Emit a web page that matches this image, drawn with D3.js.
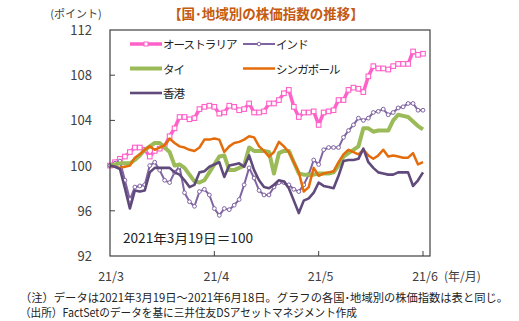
<!DOCTYPE html>
<html>
<head>
<meta charset="utf-8">
<script src="https://cdn.jsdelivr.net/npm/d3@7"></script>
<style>
  html, body { margin: 0; padding: 0; background: #fff; }
  svg { display: block; font-family: "Noto Sans CJK JP", "Noto Sans", sans-serif; }
</style>
</head>
<body>
<script>
// stock index by country / region, 2021/3/19 = 100
const seriesNames = ['オーストラリア', 'インド', 'タイ', 'シンガポール', '香港'];

const australia = [
	100.0,100.3,100.6,100.8,101.2,101.6,101.6,101.4,100.8,101.3,
	101.5,101.7,102.6,103.3,104.3,104.3,104.1,104.2,105.0,105.2,
	105.3,105.2,104.6,104.7,105.3,105.2,104.9,105.0,105.5,104.7,
	104.7,104.8,105.5,105.5,105.8,106.4,106.7,105.2,104.3,104.7,
	104.7,104.8,103.6,104.7,104.8,104.9,105.8,105.8,106.7,106.9,
	106.8,106.5,107.9,108.8,108.6,108.6,108.5,108.8,109.0,109.0,
	109.0,110.1,109.8,109.9];

const india = [
	100.0,100.2,100.4,98.7,97.0,98.1,98.2,98.3,100.0,100.3,
	99.6,98.7,98.5,99.4,99.9,97.6,96.8,96.4,97.7,97.9,
	97.4,96.2,95.6,96.2,96.1,96.5,97.0,98.3,99.8,98.9,
	97.8,97.4,97.4,98.1,98.5,98.5,98.3,97.9,97.7,98.3,
	99.2,100.5,100.1,101.4,101.6,101.6,101.6,102.5,103.1,103.6,
	104.2,104.0,104.2,104.7,104.8,105.0,104.5,104.7,105.1,105.2,
	105.5,105.5,104.9,104.9];

const thailand = [
	100.0,100.1,100.2,100.2,100.2,100.5,100.9,101.4,101.7,102.0,
	102.0,101.6,101.2,100.0,100.1,99.8,99.2,98.6,98.5,98.7,
	99.4,100.1,100.8,100.9,99.6,99.6,99.8,100.0,101.6,101.3,
	101.3,101.3,101.2,99.3,101.1,101.3,101.3,100.3,99.3,99.2,
	99.2,99.2,99.3,99.3,99.3,99.4,100.0,100.8,101.1,101.4,
	101.7,103.3,103.3,103.0,103.1,103.1,103.1,104.0,104.5,104.4,
	104.3,103.9,103.5,103.2];

const singapore = [
	100.0,99.9,99.8,99.9,100.0,100.7,101.0,101.4,101.7,101.4,
	101.6,101.8,102.4,102.0,101.7,101.6,101.4,101.3,101.6,102.3,
	102.3,102.4,102.3,101.2,101.7,102.0,102.1,102.3,102.6,102.5,
	101.7,101.3,100.8,101.2,102.1,101.7,101.2,100.3,99.4,97.7,
	98.1,99.8,99.1,99.3,99.4,99.5,100.3,101.0,101.4,101.2,
	101.0,101.4,100.9,100.6,100.9,101.4,100.8,100.9,100.8,100.7,
	100.7,101.1,100.1,100.3];

const hongKong = [
	100.0,99.9,99.7,98.0,96.2,97.8,97.7,97.8,99.4,99.8,
	99.8,99.8,99.8,99.4,99.2,98.7,98.1,98.3,99.4,99.5,
	99.9,100.1,100.3,99.0,100.0,100.1,100.2,99.9,100.9,99.6,
	98.7,98.1,98.0,98.3,98.7,98.6,98.0,96.9,95.8,96.9,
	97.1,97.6,98.5,98.2,98.1,98.0,99.1,100.4,100.5,100.5,
	100.6,101.5,100.3,99.8,99.4,99.3,99.2,99.2,99.4,99.4,
	99.4,98.2,98.7,99.4];

const xTickLabels = ['21/3', '21/4', '21/5', '21/6'];
const xTickIndex = [0, 21, 42, 63];
const yTicks = [92, 96, 100, 104, 108, 112];

const width = 519, height = 321;
const plot = { left: 110, right: 430, top: 30, bottom: 256 };

const styles = [
	{ data: australia, color: '#ff61c9', width: 3.5, marker: 'square' },
	{ data: india,     color: '#8064a2', width: 2,   marker: 'circle' },
	{ data: thailand,  color: '#9bbb59', width: 4,   marker: null },
	{ data: singapore, color: '#e46c0a', width: 2.5, marker: null },
	{ data: hongKong,  color: '#604a7b', width: 2.6, marker: null }
];

const x = d3.scaleLinear()
	.domain([0, australia.length - 1])
	.range([plot.left, 423]);

const y = d3.scaleLinear()
	.domain([92, 112])
	.range([plot.bottom, plot.top]);

const svg = d3.select('body').append('svg')
	.attr('width', width)
	.attr('height', height);

// title + unit
svg.append('text')
	.attr('x', 266).attr('y', 19)
	.attr('text-anchor', 'middle')
	.style('font-size', '13.5px').style('font-weight', 'bold')
	.style('fill', '#c55a11')
	.text('【国･地域別の株価指数の推移】');

svg.append('text')
	.attr('x', 76).attr('y', 18)
	.attr('text-anchor', 'middle')
	.style('font-size', '11px').style('fill', '#404040')
	.text('(ポイント)');

// y axis labels + inner ticks
svg.append('g').selectAll('text')
	.data(yTicks)
	.join('text')
	.attr('x', 92).attr('y', d => y(d) + 5)
	.attr('text-anchor', 'end')
	.style('font-size', '13px').style('fill', '#404040')
	.text(d => d);

svg.append('g').selectAll('line')
	.data(yTicks.slice(1, -1))
	.join('line')
	.attr('x1', plot.left).attr('x2', plot.left + 5)
	.attr('y1', d => y(d)).attr('y2', d => y(d))
	.attr('stroke', '#404040');

// x axis labels + inner ticks
svg.append('g').selectAll('line')
	.data(xTickIndex.slice(1))
	.join('line')
	.attr('x1', d => x(d)).attr('x2', d => x(d))
	.attr('y1', plot.bottom).attr('y2', plot.bottom - 5)
	.attr('stroke', '#404040');

svg.append('g').selectAll('text')
	.data(xTickIndex)
	.join('text')
	.attr('x', (d, i) => x(d) + (i === 0 ? 1 : 2))
	.attr('y', 281)
	.attr('text-anchor', 'middle')
	.style('font-size', '12.5px').style('fill', '#404040')
	.text((d, i) => xTickLabels[i]);

svg.append('text')
	.attr('x', 444).attr('y', 281)
	.style('font-size', '12px').style('fill', '#404040')
	.text('(年/月)');

// lines
const line = d3.line()
	.x((d, i) => x(i))
	.y(d => y(d));

const series = svg.append('g').selectAll('g')
	.data(styles)
	.join('g');

series.append('path')
	.attr('d', d => line(d.data))
	.attr('fill', 'none')
	.attr('stroke', d => d.color)
	.attr('stroke-width', d => d.width)
	.attr('stroke-linejoin', 'round');

series.filter(d => d.marker === 'square').selectAll('rect')
	.data(d => d.data.map((v, i) => ({ v, i, c: d.color })))
	.join('rect')
	.attr('x', d => x(d.i) - 2.3).attr('y', d => y(d.v) - 2.3)
	.attr('width', 4.6).attr('height', 4.6)
	.attr('fill', '#fff').attr('stroke', d => d.c).attr('stroke-width', 1.1);

series.filter(d => d.marker === 'circle').selectAll('circle')
	.data(d => d.data.map((v, i) => ({ v, i, c: d.color })))
	.join('circle')
	.attr('cx', d => x(d.i)).attr('cy', d => y(d.v))
	.attr('r', 1.9)
	.attr('fill', '#fff').attr('stroke', d => d.c).attr('stroke-width', 1);

// frame
svg.append('rect')
	.attr('x', plot.left).attr('y', plot.top)
	.attr('width', plot.right - plot.left).attr('height', plot.bottom - plot.top)
	.attr('fill', 'none').attr('stroke', '#404040').attr('stroke-width', 1.2);

// legend
const legend = svg.append('g').selectAll('g')
	.data(styles)
	.join('g')
	.attr('transform', (d, i) => `translate(${130 + (i % 2) * 113},${44 + Math.floor(i / 2) * 24.5})`);

legend.append('line')
	.attr('x1', 0).attr('x2', 32)
	.attr('stroke', d => d.color)
	.attr('stroke-width', d => d.width);

legend.filter(d => d.marker === 'square').append('rect')
	.attr('x', 14).attr('y', -2).attr('width', 4).attr('height', 4)
	.attr('fill', '#fff').attr('stroke', d => d.color);

legend.filter(d => d.marker === 'circle').append('circle')
	.attr('cx', 16).attr('r', 1.8)
	.attr('fill', '#fff').attr('stroke', d => d.color);

legend.append('text')
	.attr('x', 33).attr('y', 5)
	.style('font-size', '11.5px').style('letter-spacing', '-0.9px').style('fill', '#222')
	.text((d, i) => seriesNames[i]);

svg.append('text')
	.attr('x', 123).attr('y', 243)
	.attr('textLength', 130).attr('lengthAdjust', 'spacingAndGlyphs')
	.style('font-size', '13px').style('fill', '#222')
	.text('2021年3月19日＝100');

// notes
svg.append('text')
	.attr('x', 20).attr('y', 302)
	.attr('textLength', 488).attr('lengthAdjust', 'spacingAndGlyphs')
	.style('font-size', '11.5px').style('fill', '#222')
	.text('（注）データは2021年3月19日～2021年6月18日。グラフの各国･地域別の株価指数は表と同じ。');

svg.append('text')
	.attr('x', 20).attr('y', 317)
	.attr('textLength', 337).attr('lengthAdjust', 'spacingAndGlyphs')
	.style('font-size', '11.5px').style('fill', '#222')
	.text('（出所）FactSetのデータを基に三井住友DSアセットマネジメント作成');
</script>
</body>
</html>
